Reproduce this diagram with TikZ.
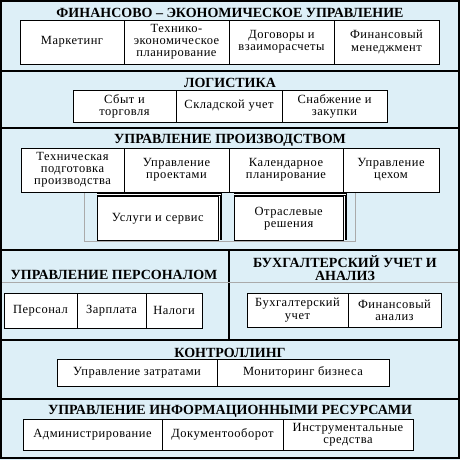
\documentclass[tikz,border=0pt]{standalone}
\usepackage{fontspec}
\setmainfont{Liberation Serif}
\newfontfamily\bodyf[LetterSpace=4]{Liberation Serif}
\definecolor{bg}{RGB}{221,239,247}
\definecolor{gr}{RGB}{170,170,170}
\begin{document}
\begin{tikzpicture}[x=1pt,y=-1pt,
  box/.style={draw=black,fill=white,line width=0.8pt,inner sep=0pt,align=center,font=\bodyf\fontsize{12.5}{12.2}\selectfont},
  ttl/.style={inner sep=0pt,align=center,font=\bfseries\fontsize{14}{13}\selectfont},
  band/.style={draw=black,line width=1.2pt},
  txt/.style={inner sep=0pt,align=center,font=\bodyf\fontsize{12.5}{12.2}\selectfont}]
\useasboundingbox (0,0) rectangle (460,460);
\fill[bg] (0,0) rectangle (460,460);
% bands
\draw[band] (1,1) rectangle (459,71);
\draw[band] (1,71) rectangle (459,128);
\draw[band] (1,128) rectangle (459,250);
\draw[band] (1,250) rectangle (459,340);
\draw[band] (1,340) rectangle (459,399);
\draw[band] (1,399) rectangle (459,458);
\draw[band] (229,250) -- (229,340);
\draw[gr,line width=0.8pt] (2,282) -- (458,282);
% titles
\node[ttl] (t1) at (230,13) {ФИНАНСОВО – ЭКОНОМИЧЕСКОЕ УПРАВЛЕНИЕ};
\node[ttl] (t2) at (230,83) {ЛОГИСТИКА};
\node[ttl] (t3) at (230,140) {УПРАВЛЕНИЕ ПРОИЗВОДСТВОМ};
\node[ttl] (t4) at (114,275) {УПРАВЛЕНИЕ ПЕРСОНАЛОМ};
\node[ttl] (t5) at (345,268.5) {БУХГАЛТЕРСКИЙ УЧЕТ И\\АНАЛИЗ};
\node[ttl] (t6) at (230,353) {КОНТРОЛЛИНГ};
\node[ttl] (t7) at (230,411) {УПРАВЛЕНИЕ ИНФОРМАЦИОННЫМИ РЕСУРСАМИ};
% row 1
\node[box,minimum width=104pt,minimum height=44pt] (a1) at (72,42) {Маркетинг};
\node[box,minimum width=105pt,minimum height=44pt] (a2) at (176.5,42) {Технико-\\экономическое\\планирование};
\node[box,minimum width=105pt,minimum height=44pt] (a3) at (281.5,42) {Договоры и\\взаиморасчеты};
\node[box,minimum width=105pt,minimum height=44pt] (a4) at (386.5,42) {Финансовый\\менеджмент};
% row 2
\node[box,minimum width=103pt,minimum height=32pt] (b1) at (124.5,106) {Сбыт и\\торговля};
\node[box,minimum width=106pt,minimum height=32pt] (b2) at (229,106) {Складской учет};
\node[box,minimum width=105pt,minimum height=32pt] (b3) at (334.5,106) {Снабжение и\\закупки};
% row 3
\draw[gr,line width=0.8pt] (84,192) rectangle (355,241);
\node[box,minimum width=103pt,minimum height=44pt] (c1) at (72.5,170) {Техническая\\подготовка\\производства};
\node[box,minimum width=105pt,minimum height=44pt] (c2) at (176.5,170) {Управление\\проектами};
\node[box,minimum width=114pt,minimum height=44pt] (c3) at (286,170) {Календарное\\планирование};
\node[box,minimum width=96pt,minimum height=44pt] (c4) at (391,170) {Управление\\цехом};
% service boxes
\fill[white] (97.3,193.3) rectangle (221.7,240);
\draw[line width=0.6pt] (97.3,196.7) rectangle (218.3,240);
\draw[line width=0.6pt] (97.3,195) -- (220,195) -- (220,240);
\draw[line width=0.6pt] (97.3,193.3) -- (221.7,193.3) -- (221.7,240);
\node[txt] (s1) at (157.8,219) {Услуги и сервис};
\fill[white] (234,193.3) rectangle (346.7,240);
\draw[line width=0.6pt] (234,196.7) rectangle (343.3,240);
\draw[line width=0.6pt] (234,195) -- (345,195) -- (345,240);
\draw[line width=0.6pt] (234,193.3) -- (346.7,193.3) -- (346.7,240);
\node[txt] (s2) at (288.7,219) {Отраслевые\\решения};
% row 4
\node[box,minimum width=73pt,minimum height=35pt] (d1) at (40.5,310.5) {Персонал};
\node[box,minimum width=69pt,minimum height=35pt] (d2) at (111.5,310.5) {Зарплата};
\node[box,minimum width=56pt,minimum height=35pt] (d3) at (174,310.5) {Налоги};
\node[box,minimum width=101pt,minimum height=34pt] (e1) at (297.5,310) {Бухгалтерский\\учет};
\node[box,minimum width=93pt,minimum height=34pt] (e2) at (394.5,310) {Финансовый\\анализ};
% row 5
\node[box,minimum width=160pt,minimum height=27pt] (f1) at (137,372.5) {Управление затратами};
\node[box,minimum width=172pt,minimum height=27pt] (f2) at (303,372.5) {Мониторинг бизнеса};
% row 6
\node[box,minimum width=139pt,minimum height=31pt] (g1) at (92.5,434.5) {Администрирование};
\node[box,minimum width=121pt,minimum height=31pt] (g2) at (222.5,434.5) {Документооборот};
\node[box,minimum width=130pt,minimum height=31pt] (g3) at (348,434.5) {Инструментальные\\средства};
\end{tikzpicture}
\end{document}
